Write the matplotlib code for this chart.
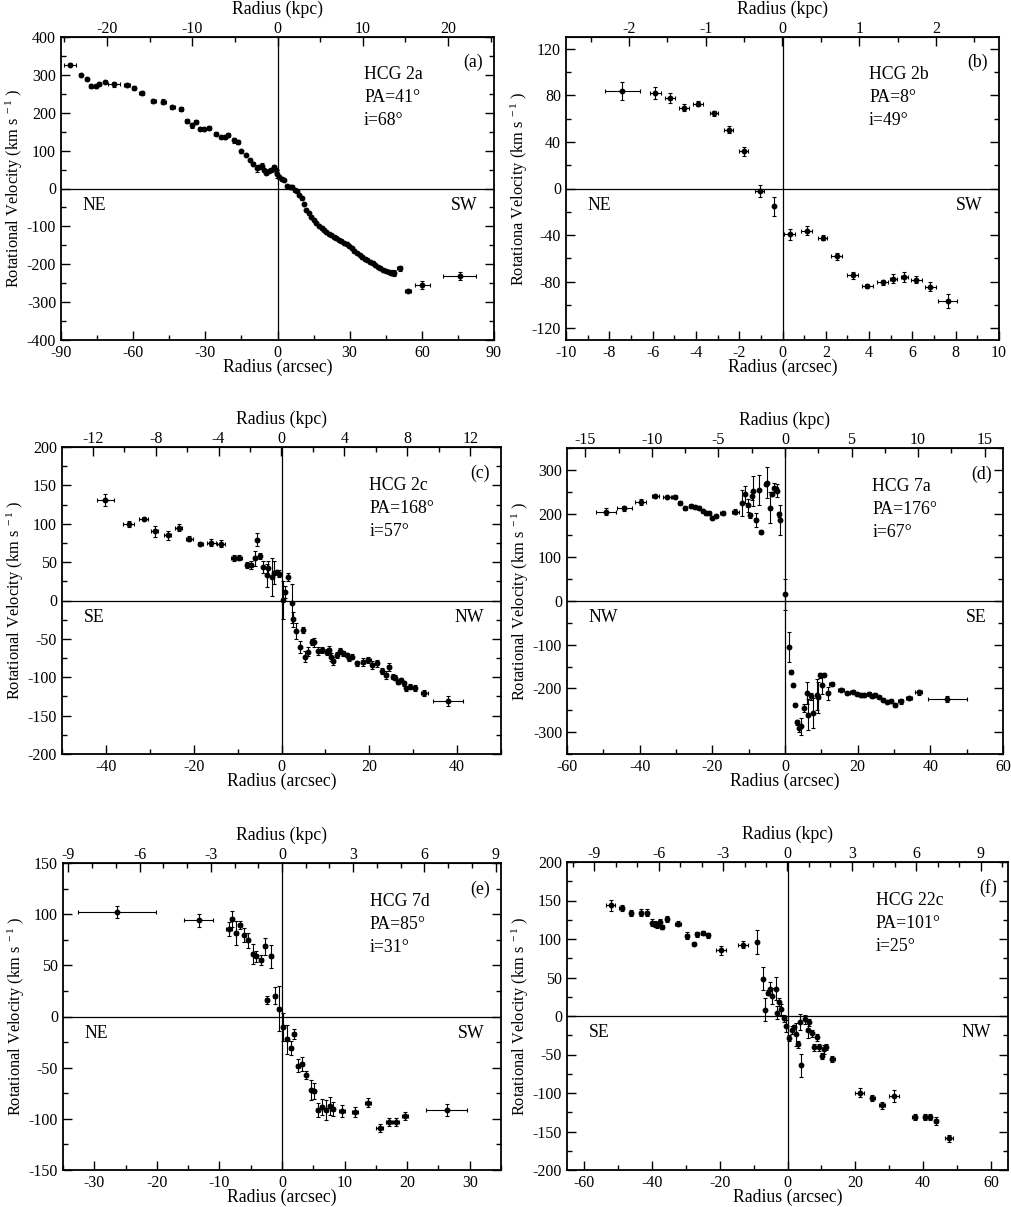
import matplotlib
matplotlib.use("Agg")
import matplotlib.pyplot as plt
from matplotlib.ticker import MultipleLocator

plt.rcParams['font.family'] = ['Liberation Serif', 'DejaVu Serif']
plt.rcParams['mathtext.fontset'] = 'custom'
plt.rcParams['mathtext.rm'] = 'Liberation Serif'
plt.rcParams['mathtext.it'] = 'Liberation Serif:italic'
plt.rcParams['axes.unicode_minus'] = False

# ---------------- data ----------------
# (a) HCG 2a
r_a = [-86.3,-81.8,-79.3,-77.7,-75.6,-74.1,-71.6,-67.8,-62.7,-59.5,-56.5,-51.6,-47.5,-43.7,-40.1,
       -37.5,-35.4,-33.9,-32.1,-30.6,-28.4,-25.6,-23.3,-21.7,-20.5,-18.0,-16.5,-15.1,-13.2,-11.5,
       -10.1,-8.4,-7.6,-6.6,-5.7,-4.6,-3.5,-2.5,-1.5,-0.7,-0.1,0.7,1.7,2.6,4.0,5.1,6.2,7.3,7.9,
       9.0,10.0,10.9,12.0,13.2,14.1,15.1,16.2,17.2,18.3,19.2,20.3,21.4,22.4,23.4,24.5,25.6,26.6,
       27.6,28.7,29.8,30.8,31.8,33.1,34.2,35.3,36.3,37.4,38.4,39.5,40.6,41.8,42.8,43.9,45.0,46.2,
       47.3,48.5,50.8,54.3,60.2,75.7]
v_a = [327,299,290,270,270,277,281,275,273,266,252,231,229,215,209,
       178,167,176,158,156,161,145,136,136,141,127,123,98,88,76,
       66,53,57,59,48,41,47,50,57,48,38,31,26,22,7,3,4,-4,-6,
       -18,-26,-40,-57,-66,-75,-83,-92,-99,-103,-110,-114,-119,-123,-127,-132,-136,-138,
       -143,-147,-152,-158,-164,-170,-176,-182,-185,-189,-193,-198,-202,-207,-211,-214,-217,-220,
       -222,-222,-211,-270,-255,-231]
xe_a = [2.5,0.6,0.6,0.6,0.6,0.6,0.6,2.5,1.2,0.8,1.0,1.0,1.0,1.0,0.8,
        0.8,0.8,0.8,0.6,0.6,0.8,0.6,0.6,0.6,0.6,0.6,0.6,0.5,0.5,0.5,
        0.5,0.5,0.5,0.5,0.5,0.5,0.5,0.5,0.5,0.5,0.5,0.5,0.5,0.5,0.5,0.5,0.5,0.5,0.5,
        0.5,0.5,0.5,0.5,0.5,0.5,0.5,0.5,0.5,0.5,0.5,0.5,0.5,0.5,0.5,0.5,0.5,0.5,
        0.5,0.5,0.5,0.5,0.5,0.5,0.5,0.5,0.5,0.5,0.5,0.5,0.5,0.5,0.5,0.5,0.5,0.5,
        0.5,0.6,1.0,1.2,3.0,7.0]
ye_a = [4,3,3,4,4,3,3,6,6,4,6,6,6,4,5,
        6,6,4,4,3,5,3,3,4,5,6,6,3,3,3,
        3,10,6,8,4,4,4,4,6,6,10,4,3,3,3,3,3,4,3,
        3,3,3,3,3,3,3,3,3,3,3,3,3,3,3,3,3,3,
        3,3,3,3,3,3,3,3,3,3,3,3,3,3,3,3,3,3,
        6,8,6,4,10,10]

# (b) HCG 2b
r_b = [-7.4,-5.88,-5.2,-4.55,-3.9,-3.17,-2.48,-1.8,-1.06,-0.38,0.34,1.12,1.85,2.5,3.25,3.92,
       4.62,5.12,5.63,6.18,6.82,7.63]
v_b = [83.7,81.7,77.7,69.4,72.9,64.6,50.6,32.0,-2.0,-15.4,-39.4,-36.3,-42.3,-58.3,-74.3,-83.7,
       -80.6,-77.4,-76.0,-78.3,-84.3,-96.6]
xe_b = [0.8,0.25,0.25,0.25,0.25,0.2,0.2,0.2,0.2,0.0,0.25,0.25,0.2,0.25,0.25,0.25,
        0.25,0.15,0.15,0.25,0.25,0.45]
ye_b = [8,5,4,3,2,2,3,4,5,8,5,4,2,3,3,2,2,4,4,3,4,6]

# (c) HCG 2c
r_c = [-40.1,-34.8,-31.4,-28.9,-25.9,-23.4,-21.0,-18.5,-16.0,-13.8,-10.9,-9.6,-7.9,-6.9,-6.1,
       -5.5,-5.0,-4.25,-3.4,-3.0,-2.2,-1.6,-1.05,-0.5,0.4,0.76,1.5,2.4,2.7,3.3,4.25,4.8,5.4,6.1,
       6.9,7.3,8.4,9.3,10.3,10.8,11.3,11.8,12.6,13.4,14.1,14.9,15.4,16.0,17.1,18.5,19.8,20.7,
       21.7,23.0,23.8,24.5,25.3,25.9,26.6,27.2,27.8,28.4,29.3,30.3,32.5,37.9]
v_c = [130.6,100.2,106.7,90.2,85.0,95.0,80.7,74.2,75.5,74.2,55.5,56.0,46.0,46.0,55.1,
       79.4,57.7,43.8,33.0,41.7,30.8,36.0,37.3,35.1,0.4,11.3,30.8,-3.9,-24.7,-39.9,-60.3,-38.6,
       -73.3,-66.8,-54.6,-54.6,-65.5,-64.6,-66.8,-64.6,-73.3,-78.5,-71.1,-65.5,-69.0,-71.1,-75.5,
       -73.3,-82.0,-79.8,-77.6,-84.1,-82.0,-91.5,-97.2,-86.3,-99.3,-100.6,-105.8,-103.7,-108.0,
       -114.5,-112.3,-114.5,-120.2,-131.0]
xe_c = [2.0,1.3,1.0,0.8,0.8,0.8,0.8,0.6,1.0,1.0,0.6,0.5,0.5,0.4,0.3,
        0.3,0.3,0.2,0.2,0.2,0.2,0.3,0.3,0.3,0.2,0.2,0.2,0.2,0.2,0.2,0.2,0.2,0.2,0.2,
        0.4,0.4,0.4,0.4,0.4,0.4,0.3,0.3,0.3,0.4,0.4,0.4,0.4,0.4,0.4,0.5,0.5,0.4,
        0.5,0.4,0.4,0.4,0.3,0.3,0.3,0.3,0.3,0.3,0.4,0.4,0.8,3.4]
ye_c = [8,4,2,7,6,5,3,2,4,4,4,3,4,5,10,
        8,4,8,15,10,25,15,3,4,25,8,5,25,10,10,8,4,7,6,
        4,6,5,4,4,5,5,5,4,4,3,3,3,3,3,5,4,5,
        5,4,5,5,3,3,3,3,3,3,3,4,4,6]

# (d) HCG 7a
r_d = [-49.3,-44.2,-39.7,-35.7,-32.5,-30.4,-28.9,-27.5,-25.9,-24.7,-23.8,-22.7,-21.7,-20.9,-20.0,
       -19.0,-17.2,-13.7,-11.9,-11.0,-10.3,-9.6,-9.0,-8.7,-8.1,-7.2,-6.6,-5.2,-4.9,-4.0,-3.7,
       -3.1,-2.6,-2.1,-1.7,-1.3,-0.1,
       1.0,1.55,2.1,2.75,3.3,3.85,4.4,5.2,5.95,6.2,7.1,7.8,8.7,9.2,9.6,10.1,10.8,11.7,12.8,
       15.4,17.2,18.6,19.9,20.8,21.7,23.1,24.0,24.9,25.9,27.0,28.2,29.1,30.2,31.8,34.1,36.8,44.7]
v_d = [204.5,212,226.6,239.6,238,238.9,225.1,212.1,217.5,215.2,213.6,206,200.6,200.6,190.7,
       194.5,200.6,204.5,223.6,244.2,219,196,240.4,251.8,185.3,254.1,157.8,267.1,270.9,213.6,244.2,
       259.5,255.7,251.8,198.3,185.3,14.9,
       -105.1,-162.4,-193,-237.3,-277.8,-290.8,-287,-245,-210.6,-260.3,-218.2,-256.4,-214.4,-220.5,
       -170,-193,-168.5,-210.6,-189.2,
       -203,-210.6,-207.5,-212.1,-216,-216,-212.1,-218.2,-214.4,-219.8,-225.9,-231.2,-229.7,-237.3,
       -229.7,-222,-209,-224.3]
xe_d = [2.8,2.0,1.5,1.0,1.0,0.6,0.5,0.5,0.5,0.5,0.5,0.5,0.5,0.5,0.5,
        0.5,0.8,1.0,0.3,0.3,0.3,0.3,0.3,0.3,0.3,0.3,0.3,0.3,0.3,0.3,0.3,
        0.3,0.3,0.3,0.3,0.3,0.2,
        0.2,0.3,0.3,0.3,0.3,0.3,0.3,0.3,0.3,0.3,0.3,0.3,0.3,0.3,0.3,0.3,0.3,0.3,0.8,
        0.8,0.6,0.6,0.6,0.5,0.5,0.5,0.5,0.5,0.5,0.5,0.5,0.5,0.5,0.8,0.8,1.0,5.3]
ye_d = [8,6,6,3,3,3,3,3,3,3,3,3,3,3,3,
        3,4,5,30,20,15,6,10,35,15,35,4,5,35,35,5,
        10,6,15,6,35,35,
        35,4,3,3,5,10,20,10,25,35,8,35,35,35,5,20,4,15,4,
        4,3,3,3,3,3,3,3,3,3,3,3,3,4,5,5,6,6]

# (e) HCG 7d
r_e = [-26.4,-13.3,-8.5,-8.0,-7.4,-6.7,-6.0,-5.4,-4.7,-4.1,-3.4,-2.7,-1.7,-2.4,-1.1,-0.45,
       0.2,0.83,1.4,1.9,2.6,3.2,3.9,4.7,5.1,5.8,6.4,7.1,7.6,8.2,9.6,11.7,13.7,15.6,17.1,18.2,
       19.7,26.3]
v_e = [102.1,93.9,85.8,95.2,81.5,89.7,79.9,74.3,61.3,58.7,55.4,68.5,58.7,16.3,20.5,7.5,
       -10.4,-22.2,-31.0,-17.0,-47.9,-46.6,-57.1,-71.7,-72.7,-91.3,-88.7,-91.3,-87.4,-90.3,
       -92.3,-93.6,-84.1,-109.2,-103.4,-103.4,-97.2,-91.3]
xe_e = [6.25,2.3,0.5,0.3,0.3,0.3,0.3,0.3,0.3,0.3,0.3,0.3,0.3,0.3,0.3,0.3,
        0.3,0.3,0.3,0.3,0.3,0.3,0.3,0.3,0.3,0.3,0.3,0.3,0.3,0.3,0.5,0.5,0.5,0.5,0.5,0.5,
        0.5,3.3]
ye_e = [6,6,7,8,12,4,7,7,10,5,5,8,11,4,8,22,
        14,14,7,5,6,7,4,10,8,7,8,10,9,7,6,5,4,4,4,4,
        4,6]

# (f) HCG 22c
r_f = [-52.1,-48.9,-46.0,-43.1,-41.3,-39.8,-39.0,-38.4,-37.7,-37.0,-35.4,-32.3,-29.6,-27.7,-26.6,
       -24.96,-23.3,-19.6,-13.2,-9.1,-7.3,-6.7,-5.7,-5.1,-4.6,-3.5,-3.1,-2.5,-1.8,-1.0,-0.3,
       0.5,1.2,1.8,2.5,3.1,3.6,4.1,5.2,5.9,6.4,7.3,7.8,8.6,9.3,10.1,10.8,11.3,13.2,
       21.3,25.0,27.9,31.5,37.5,40.6,42.1,43.8,47.5]
v_f = [143.8,140.8,133.8,134.3,134.3,121.3,119.1,117.8,122.2,115.7,125.6,120.0,104.4,94.1,106.2,
       107.9,104.9,85.4,92.8,96.2,48.6,8.4,30.5,35.7,26.2,35.7,4.5,18.4,8.9,-3.2,-12.8,
       -28.3,-18.4,-14.1,-23.6,-37.0,-7.6,-63.8,-4.5,-18.4,-8.4,-22.7,-40.9,-27.9,-40.9,-52.1,
       -43.5,-40.0,-56.0,
       -99.7,-107.0,-116.1,-103.6,-131.7,-131.7,-131.7,-136.4,-158.9]
xe_f = [1.3,0.8,0.6,0.6,0.6,0.5,0.5,0.5,0.5,0.5,0.6,1.0,0.6,0.4,0.6,
        0.6,0.6,1.5,1.5,0.3,0.3,0.3,0.3,0.3,0.3,0.3,0.3,0.3,0.3,0.3,0.3,
        0.3,0.3,0.3,0.3,0.3,0.3,0.3,0.3,0.3,0.3,0.3,0.3,0.3,0.3,0.3,0.3,0.3,0.8,
        1.3,0.8,0.8,1.5,0.8,0.6,0.6,0.6,1.2]
ye_f = [7,4,4,5,5,5,4,4,4,3,4,3,5,2,3,
        3,3,6,4,16,15,15,3,8,10,15,8,5,7,5,8,
        4,5,3,15,4,10,15,6,10,4,5,5,4,4,4,6,4,4,
        6,4,5,8,4,4,4,5,5]

names = ["HCG 2a", "HCG 2b", "HCG 2c", "HCG 7a", "HCG 7d", "HCG 22c"]
pas = ["PA=41°", "PA=8°", "PA=168°", "PA=176°", "PA=85°", "PA=101°"]
incs = ["i=68°", "i=49°", "i=57°", "i=67°", "i=31°", "i=25°"]
tags = ["(a)", "(b)", "(c)", "(d)", "(e)", "(f)"]
sides = [("NE", "SW"), ("NE", "SW"), ("SE", "NW"), ("NW", "SE"), ("NE", "SW"), ("SE", "NW")]
kpc_per_arcsec = [0.282, 0.282, 0.279, 0.273, 0.2635, 0.158]
ylabels = ["Rotational Velocity (km s$^{\\ -1}$ )", "Rotationa Velocity (km s$^{\\ -1}$ )",
           "Rotational Velocity (km s$^{\\ -1}$ )", "Rotational Velocity (km s$^{\\ -1}$ )",
           "Rotational Velocity (km s$^{\\ -1}$ )", "Rotational Velocity (km s$^{\\ -1}$ )"]

# ---------------- layout ----------------
W, H = 1011, 1207
fig = plt.figure(figsize=(W / 100, H / 100), dpi=100)

# pixel boxes: left, right, top, bottom
boxes = [(61, 494, 37, 340), (566, 999, 37, 340),
         (62, 501, 447, 754), (567, 1003, 448, 754),
         (63, 501, 863, 1170), (567, 1008, 862, 1170)]
cfg = [
    dict(xlim=(-90, 90), ylim=(-400, 400), xmaj=30, xmin=15, ymaj=100, ymin=50, kmaj=10, kmin=5),
    dict(xlim=(-10, 10), ylim=(-130, 130), xmaj=2, xmin=1, ymaj=40, ymin=20, kmaj=1, kmin=0.5),
    dict(xlim=(-50, 50), ylim=(-200, 200), xmaj=20, xmin=10, ymaj=50, ymin=25, kmaj=4, kmin=2),
    dict(xlim=(-60, 60), ylim=(-350, 350), xmaj=20, xmin=10, ymaj=100, ymin=50, kmaj=5, kmin=2.5),
    dict(xlim=(-35, 35), ylim=(-150, 150), xmaj=10, xmin=5, ymaj=50, ymin=25, kmaj=3, kmin=1),
    dict(xlim=(-65, 65), ylim=(-200, 200), xmaj=20, xmin=10, ymaj=50, ymin=25, kmaj=3, kmin=1),
]
data = [(r_a, v_a, xe_a, ye_a), (r_b, v_b, xe_b, ye_b), (r_c, v_c, xe_c, ye_c),
        (r_d, v_d, xe_d, ye_d), (r_e, v_e, xe_e, ye_e), (r_f, v_f, xe_f, ye_f)]

TICK_FS = 11.5
LAB_FS = 12.8
YLAB_FS = 11.8

for i in range(6):
    l, r, t, b = boxes[i]
    ax = fig.add_axes([l / W, 1 - b / H, (r - l) / W, (b - t) / H])
    c = cfg[i]
    rr, vv, xe, ye = data[i]
    ax.axhline(0, color='black', lw=0.9, zorder=1)
    ax.axvline(0, color='black', lw=0.9, zorder=1)
    ax.errorbar(rr, vv, xerr=xe, yerr=ye, fmt='o', ms=3.2, color='black', mfc='black',
                mec='black', ecolor='black', elinewidth=0.8, capsize=1.6, capthick=0.8, zorder=3)
    ax.set_xlim(*c['xlim'])
    ax.set_ylim(*c['ylim'])
    ax.xaxis.set_major_locator(MultipleLocator(c['xmaj']))
    ax.xaxis.set_minor_locator(MultipleLocator(c['xmin']))
    ax.yaxis.set_major_locator(MultipleLocator(c['ymaj']))
    ax.yaxis.set_minor_locator(MultipleLocator(c['ymin']))
    ax.tick_params(which='both', direction='in', top=False, right=True, labelsize=TICK_FS, width=1.0)
    ax.tick_params(which='major', length=6.5)
    ax.tick_params(which='minor', length=3.5)
    for sp in ax.spines.values():
        sp.set_linewidth(1.3)
    ax.set_xlabel("Radius (arcsec)", fontsize=LAB_FS, labelpad=-1.5)
    ax.set_ylabel(ylabels[i], fontsize=YLAB_FS)
    ax.yaxis.set_label_coords(-0.082, 0.5)

    s = kpc_per_arcsec[i]
    sec = ax.secondary_xaxis('top', functions=(lambda x, s=s: x * s, lambda x, s=s: x / s))
    sec.xaxis.set_major_locator(MultipleLocator(c['kmaj']))
    sec.xaxis.set_minor_locator(MultipleLocator(c['kmin']))
    sec.tick_params(which='both', direction='in', labelsize=TICK_FS, width=1.0, pad=0)
    sec.tick_params(which='major', length=6.5)
    sec.tick_params(which='minor', length=3.5)
    sec.set_xlabel("Radius (kpc)", fontsize=LAB_FS, labelpad=5)

    ax.text(0.70, 0.875, names[i], transform=ax.transAxes, fontsize=LAB_FS, va='center', ha='left')
    ax.text(0.70, 0.80, pas[i], transform=ax.transAxes, fontsize=LAB_FS, va='center', ha='left')
    ax.text(0.70, 0.725, incs[i], transform=ax.transAxes, fontsize=LAB_FS, va='center', ha='left')
    ax.text(0.975, 0.915, tags[i], transform=ax.transAxes, fontsize=LAB_FS, va='center', ha='right')
    ax.text(0.05, 0.445, sides[i][0], transform=ax.transAxes, fontsize=LAB_FS, va='center', ha='left')
    ax.text(0.962, 0.445, sides[i][1], transform=ax.transAxes, fontsize=LAB_FS, va='center', ha='right')

fig.savefig("out.png", dpi=100)
